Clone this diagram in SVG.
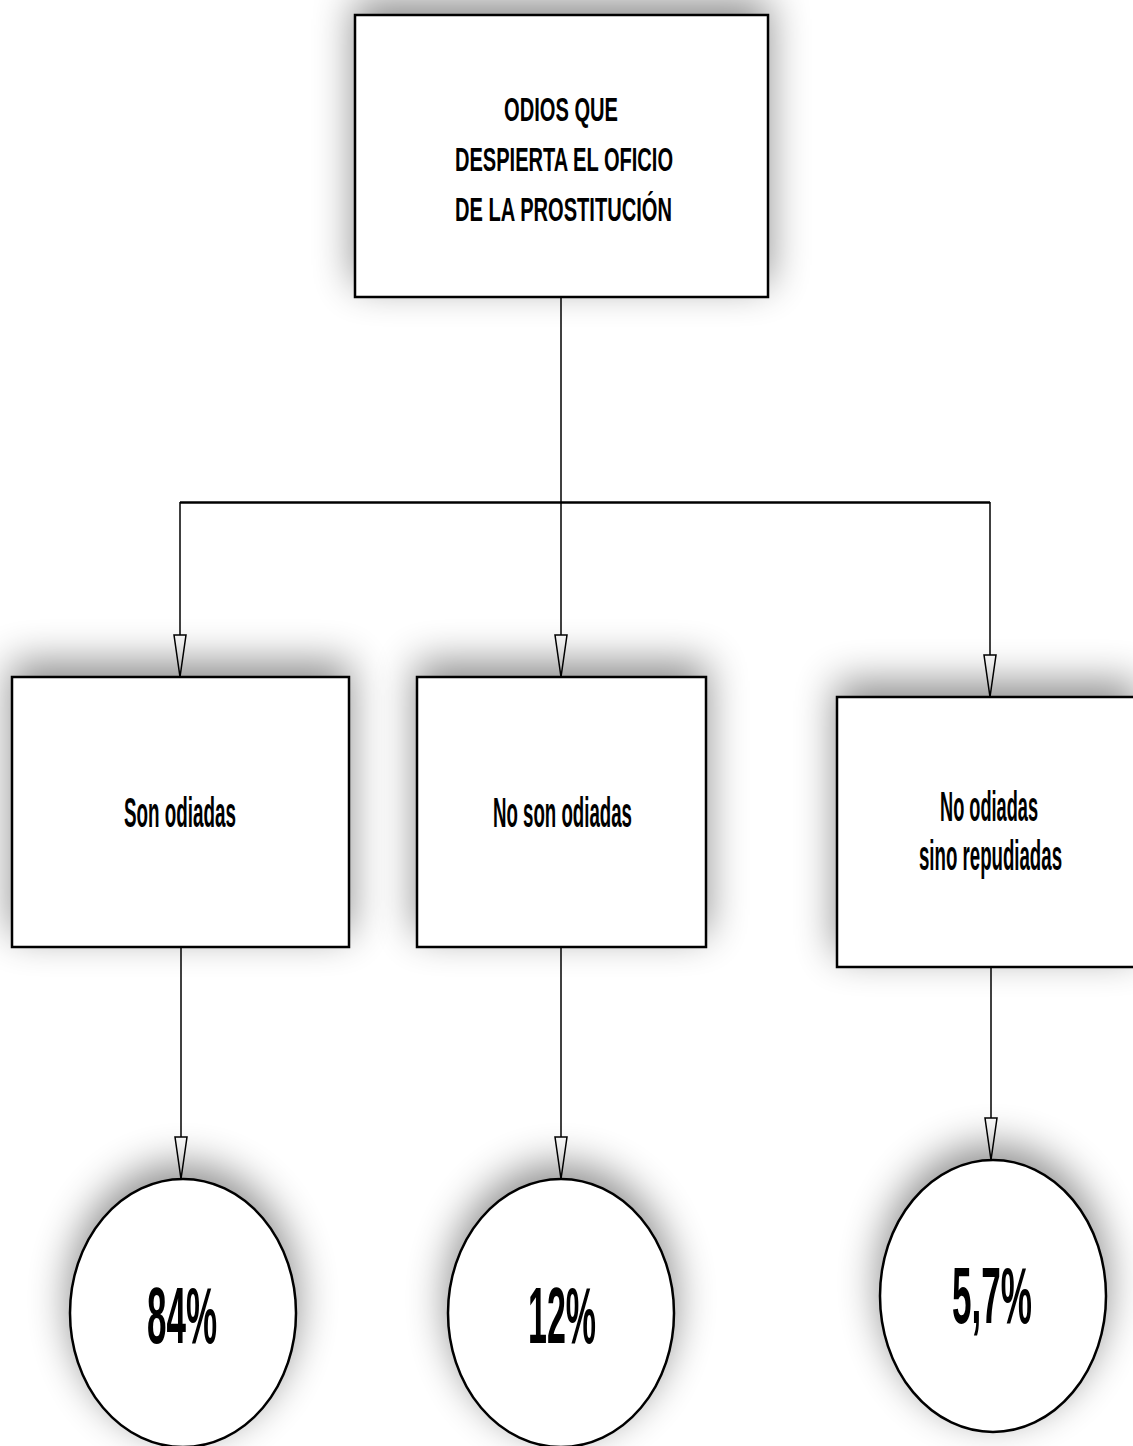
<svg xmlns="http://www.w3.org/2000/svg" width="1133" height="1446" viewBox="0 0 1133 1446">
<defs>
<style>
.box{fill:#fff;stroke:#000;stroke-width:2.5}
.t{font-family:"Liberation Sans",Arial,sans-serif;font-weight:bold;fill:#000;text-anchor:start}
.conn{fill:none;stroke:#000;stroke-width:1.5}
.hconn{fill:none;stroke:#000;stroke-width:2.5}
</style>
<filter id="sh" x="-40%" y="-40%" width="180%" height="180%">
<feGaussianBlur in="SourceAlpha" stdDeviation="20"/>
<feOffset dx="0" dy="-14" result="b"/>
<feComponentTransfer><feFuncA type="linear" slope="0.45"/></feComponentTransfer>
<feMerge><feMergeNode/><feMergeNode in="SourceGraphic"/></feMerge>
</filter>
<marker id="arr" markerUnits="userSpaceOnUse" markerWidth="46" markerHeight="16" viewBox="-44 -8 46 16" refX="0" refY="0" orient="auto" overflow="visible">
<path d="M-42,-6 L-42,6 L0,0 Z" fill="#fff" stroke="#000" stroke-width="1.5"/>
</marker>
</defs>
<rect width="1133" height="1446" fill="#fff"/>

<g id="connectors">
<line class="conn" x1="561" y1="297" x2="561" y2="677" marker-end="url(#arr)"/>
<line class="hconn" x1="180" y1="502.5" x2="990" y2="502.5"/>
<line class="conn" x1="180" y1="502" x2="180" y2="677" marker-end="url(#arr)"/>
<line class="conn" x1="990" y1="502" x2="990" y2="697" marker-end="url(#arr)"/>
<line class="conn" x1="181" y1="947" x2="181" y2="1179" marker-end="url(#arr)"/>
<line class="conn" x1="561" y1="947" x2="561" y2="1179" marker-end="url(#arr)"/>
<line class="conn" x1="991" y1="967" x2="991" y2="1160" marker-end="url(#arr)"/>
</g>

<g id="n-top">
<rect class="box" x="355" y="15" width="413" height="282" filter="url(#sh)"/>
<text class="t" font-size="34" x="504" y="121" textLength="114" lengthAdjust="spacingAndGlyphs">ODIOS QUE</text>
<text class="t" font-size="34" x="455" y="171" textLength="218" lengthAdjust="spacingAndGlyphs">DESPIERTA EL OFICIO</text>
<text class="t" font-size="34" x="455" y="221" textLength="217" lengthAdjust="spacingAndGlyphs">DE LA PROSTITUCIÓN</text>
</g>

<g id="n-son">
<rect class="box" x="12" y="677" width="337" height="270" filter="url(#sh)"/>
<text class="t" font-size="42" x="124" y="827" textLength="112" lengthAdjust="spacingAndGlyphs">Son odiadas</text>
</g>

<g id="n-noson">
<rect class="box" x="417" y="677" width="289" height="270" filter="url(#sh)"/>
<text class="t" font-size="42" x="493" y="827" textLength="139" lengthAdjust="spacingAndGlyphs">No son odiadas</text>
</g>

<g id="n-repud">
<rect class="box" x="837" y="697" width="300" height="270" filter="url(#sh)"/>
<text class="t" font-size="42" x="940" y="821" textLength="98" lengthAdjust="spacingAndGlyphs">No odiadas</text>
<text class="t" font-size="42" x="919" y="870" textLength="143" lengthAdjust="spacingAndGlyphs">sino repudiadas</text>
</g>

<g id="c-84">
<ellipse class="box" cx="183" cy="1313" rx="113" ry="134" filter="url(#sh)"/>
<text class="t" font-size="80" x="147" y="1343" textLength="70" lengthAdjust="spacingAndGlyphs">84%</text>
</g>

<g id="c-12">
<ellipse class="box" cx="561" cy="1313" rx="113" ry="134" filter="url(#sh)"/>
<text class="t" font-size="80" x="528" y="1343" textLength="68" lengthAdjust="spacingAndGlyphs">12%</text>
</g>

<g id="c-57">
<ellipse class="box" cx="993" cy="1296" rx="113" ry="136" filter="url(#sh)"/>
<text class="t" font-size="80" x="952" y="1323" textLength="80" lengthAdjust="spacingAndGlyphs">5,7%</text>
</g>
</svg>
